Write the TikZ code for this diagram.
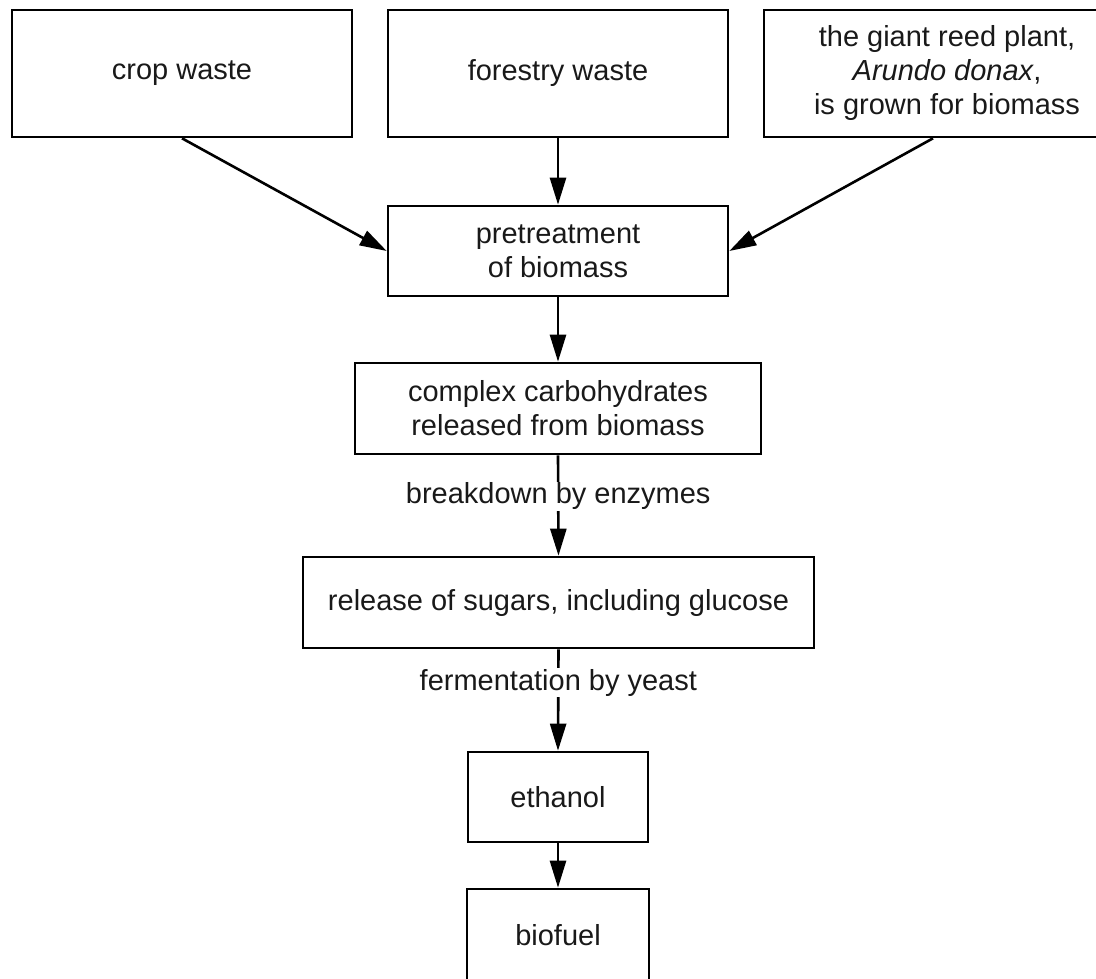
\documentclass[tikz,border=0pt]{standalone}
\usepackage{fontspec}
\setmainfont{Liberation Sans}
\usetikzlibrary{arrows.meta}
\tikzset{
  box/.style={draw, line width=2.6pt, align=center, inner sep=0pt,
    font=\fontsize{29}{34}\selectfont, text=black!90},
  flow/.style={line width=2.6pt, -{Triangle[length=27pt,width=16pt]}},
  lbl/.style={fill=white, inner sep=1pt, font=\fontsize{29}{34}\selectfont, text=black!90}
}
\begin{document}
\begin{tikzpicture}[x=1pt,y=-1pt]
\useasboundingbox (0,0) rectangle (1096,979);
\clip (0,0) rectangle (1096,979);
\node[box, minimum width=340pt, minimum height=127pt] (crop) at (182,73.5) {crop waste};
\node[box, minimum width=340pt, minimum height=127pt] (forest) at (558,73.5) {forestry waste};
\node[box, minimum width=366pt, minimum height=127pt] (reed) at (947,73.5)
  {the giant reed plant,\\\textit{Arundo donax},\\is grown for biomass};
\node[box, minimum width=340pt, minimum height=90pt] (pre) at (558,251) {pretreatment\\of biomass};
\node[box, minimum width=406pt, minimum height=91pt] (complex) at (558,408.5)
  {complex carbohydrates\\released from biomass};
\node[box, minimum width=511pt, minimum height=91pt] (sugars) at (558.5,602.5)
  {release of sugars, including glucose};
\node[box, minimum width=180pt, minimum height=90pt] (eth) at (558,797) {ethanol};
\node[box, minimum width=182pt, minimum height=92pt] (bio) at (558,935) {biofuel};

\draw[flow] (crop.south) -- (pre.west);
\draw[flow] ([xshift=-14pt]reed.south) -- (pre.east);
\draw[flow] (forest.south) -- (pre.north);
\draw[flow] (pre.south) -- (complex.north);
\draw[flow] (complex.south) -- (sugars.north)
  node[lbl, pos=0.41] (l1) {breakdown by enzymes};
\draw[flow] (sugars.south) -- (eth.north)
  node[lbl, pos=0.33] (l2) {fermentation by yeast};
\draw[flow] (eth.south) -- (bio.north);
\end{tikzpicture}
\end{document}
